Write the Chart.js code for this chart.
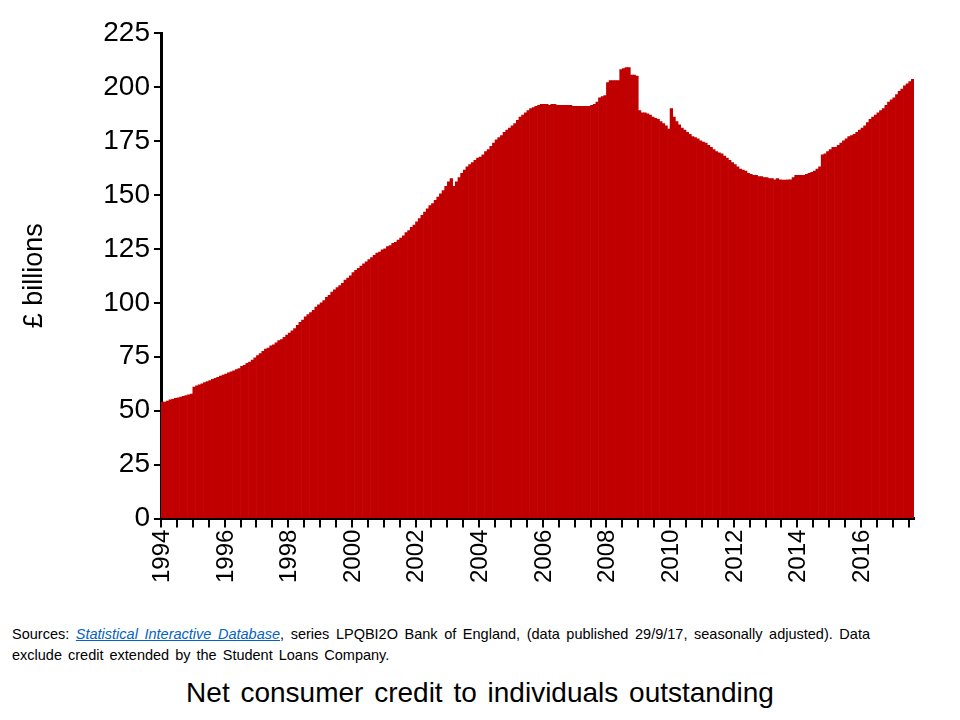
<!DOCTYPE html>
<html lang="en">
<head>
<meta charset="UTF-8">
<title>Net consumer credit to individuals outstanding</title>
<script src="https://cdn.jsdelivr.net/npm/chart.js"></script>
<style>
    * { margin: 0; padding: 0; box-sizing: border-box; }
    body { width: 960px; height: 720px; background: #fff; position: relative; font-family: 'Liberation Sans', Arial, sans-serif; }
    #wrap { position: absolute; left: 0; top: 0; width: 960px; height: 585px; }
    .source { position: absolute; left: 12px; top: 624px; width: 858px; font-size: 14.5px; line-height: 21px; color: #000; text-align: justify; word-spacing: 2px; }
    .source a { color: #0563c1; font-style: italic; }
    .title { position: absolute; left: 0; top: 677px; width: 960px; text-align: center; font-size: 28px; word-spacing: 3px; }
</style>
</head>
<body>
<div id="wrap"><canvas id="creditChart"></canvas></div>
<div class="source">Sources: <a href="#">Statistical Interactive Database</a>, series LPQBI2O Bank of England, (data published 29/9/17, seasonally adjusted). Data exclude credit extended by the Student Loans Company.</div>
<div class="title">Net consumer credit to individuals outstanding</div>

<script>
    // monthly values, £ billions, Jan 1994 - Aug 2017
    var y1994 = [54, 54, 54.5, 55, 55.3, 55.7, 56, 56.3, 56.7, 57, 57.3, 57.7];
    var y1995 = [61, 61.5, 62, 62.5, 63, 63.5, 64, 64.5, 65, 65.5, 66, 66.5];
    var y1996 = [67, 67.5, 68, 68.5, 69, 69.5, 70.5, 71, 72, 72.5, 73.5, 74.5];
    var y1997 = [75.5, 76.5, 77.5, 78.5, 79, 80, 80.5, 81.5, 82.5, 83, 84, 85];
    var y1998 = [86, 87, 88, 89.5, 91, 92, 93.5, 94.5, 95.5, 96.5, 98, 99];
    var y1999 = [100, 101, 102.5, 103.5, 105, 106, 107, 108, 109, 110.5, 111.5, 112.5];
    var y2000 = [114, 115, 116, 117, 118, 119, 120, 121, 122, 123, 123.5, 124.5];
    var y2001 = [125, 126, 126.5, 127.5, 128, 129, 130, 131, 132.5, 133.5, 135, 136];
    var y2002 = [137.5, 139, 140.5, 142, 143.5, 145, 146, 147.5, 149, 150.5, 152, 154];
    var y2003 = [156, 157.5, 154, 156, 158, 160, 161.5, 163, 164, 165, 166, 167];
    var y2004 = [167.5, 168.5, 170, 171, 172.5, 174, 175.5, 176.5, 177.5, 179, 180, 181];
    var y2005 = [182, 183, 184.5, 186, 187, 188, 189, 190, 190.5, 191, 191.5, 192];
    var y2006 = [192, 192, 191.5, 192, 192, 191.5, 191.5, 191.5, 191.5, 191.5, 191.5, 191];
    var y2007 = [191, 191, 191, 191, 191, 191, 191.5, 192, 193, 195, 195.5, 196];
    var y2008 = [202, 203, 203, 203, 203, 208, 208.5, 209, 209, 205.5, 205.5, 205];
    var y2009 = [189, 188, 188, 187.5, 187, 186, 185.5, 185, 184, 183, 182, 180.5];
    var y2010 = [190, 186, 184, 182.5, 181, 180, 179, 178, 177, 176.5, 176, 175];
    var y2011 = [174.5, 174, 173, 172, 171, 170, 169.5, 169, 168, 167, 166, 165];
    var y2012 = [164, 163, 162, 161.5, 161, 160, 159.5, 159, 159, 158.5, 158.5, 158];
    var y2013 = [158, 157.5, 157.5, 157, 157.5, 157, 156.8, 156.8, 157, 157, 158, 159];
    var y2014 = [159, 159, 159, 159.5, 160, 160.5, 161, 162, 163, 168.5, 169, 170];
    var y2015 = [171, 172, 172, 173, 174, 175, 176, 177, 177.5, 178, 179, 180];
    var y2016 = [181, 182, 183.5, 185, 186, 187, 188, 189, 190, 191.5, 193, 194];
    var y2017 = [195, 196.5, 198, 199, 200.5, 201.5, 202.5, 203.5];

    var startYear = 1994;
    var yTicks = [0, 25, 50, 75, 100, 125, 150, 175, 200, 225];

    var values = [].concat(y1994, y1995, y1996, y1997, y1998, y1999, y2000, y2001,
        y2002, y2003, y2004, y2005, y2006, y2007, y2008, y2009, y2010, y2011,
        y2012, y2013, y2014, y2015, y2016, y2017);
    var labels = values.map(function (v, i) {
        var yr = startYear + Math.floor(i / 12);
        return (i % 12 === 0 && yr % 2 === 0) ? String(yr) : '';
    });

    var ctx = document.getElementById('creditChart').getContext('2d');
    new Chart(ctx, {
        type: 'bar',
        data: {
            labels: labels,
            datasets: [{
                data: values,
                backgroundColor: '#c00000',
                borderWidth: 0,
                barPercentage: 1,
                categoryPercentage: 1
            }]
        },
        options: {
            responsive: true,
            maintainAspectRatio: false,
            animation: false,
            layout: { padding: { left: 14, right: 46, top: 33, bottom: 0 } },
            plugins: { legend: { display: false }, tooltip: { enabled: false } },
            scales: {
                x: {
                    offset: true,
                    border: { color: '#000', width: 3 },
                    grid: {
                        offset: true,
                        drawOnChartArea: false,
                        tickLength: 9,
                        lineWidth: 2,
                        color: function (c) { return c.index % 6 === 0 ? '#000' : 'rgba(0,0,0,0)'; }
                    },
                    ticks: {
                        autoSkip: false,
                        minRotation: 90,
                        maxRotation: 90,
                        padding: 2,
                        color: '#000',
                        font: { family: "'Liberation Sans', Arial", size: 24 }
                    }
                },
                y: {
                    min: 0,
                    max: 225,
                    afterBuildTicks: function (axis) { axis.ticks = yTicks.map(function (v) { return { value: v }; }); },
                    afterFit: function (axis) { axis.width = 147; },
                    border: { color: '#000', width: 3 },
                    grid: { drawOnChartArea: false, tickLength: 7, lineWidth: 2, color: '#000' },
                    ticks: {
                        color: '#000',
                        padding: 4,
                        font: { family: "'Liberation Sans', Arial", size: 28 }
                    },
                    title: {
                        display: true,
                        text: '£ billions',
                        color: '#000',
                        padding: { bottom: 18 },
                        font: { family: "'Liberation Sans', Arial", size: 27 }
                    }
                }
            }
        }
    });
</script>
</body>
</html>
